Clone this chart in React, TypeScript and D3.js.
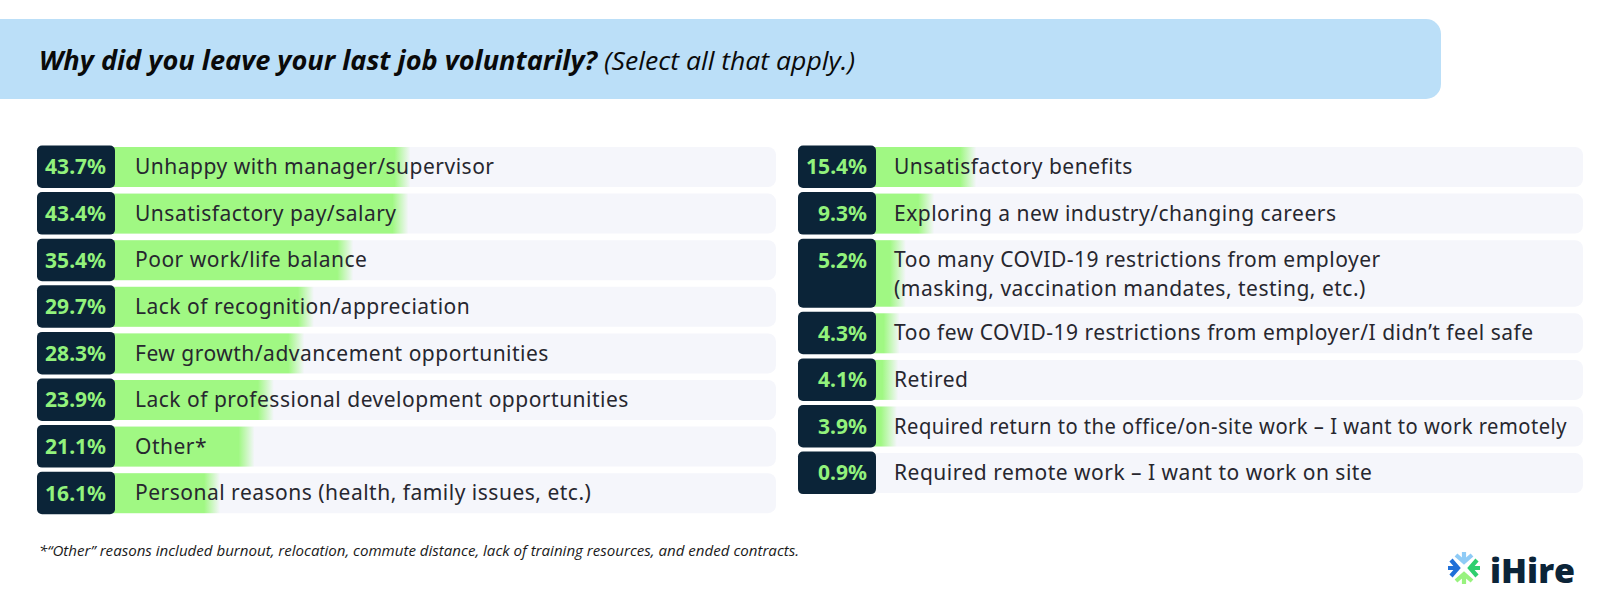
import React, { useLayoutEffect, useRef } from "react";
import * as d3 from "d3";

// ---------- data ----------
const leftLabels = [
  "Unhappy with manager/supervisor",
  "Unsatisfactory pay/salary",
  "Poor work/life balance",
  "Lack of recognition/appreciation",
  "Few growth/advancement opportunities",
  "Lack of professional development opportunities",
  "Other*",
  "Personal reasons (health, family issues, etc.)",
];
const leftValues = [43.7, 43.4, 35.4, 29.7, 28.3, 23.9, 21.1, 16.1];

const rightLabels = [
  "Unsatisfactory benefits",
  "Exploring a new industry/changing careers",
  "Too many COVID-19 restrictions from employer\n(masking, vaccination mandates, testing, etc.)",
  "Too few COVID-19 restrictions from employer/I didn’t feel safe",
  "Retired",
  "Required return to the office/on-site work – I want to work remotely",
  "Required remote work – I want to work on site",
];
const rightValues = [15.4, 9.3, 5.2, 4.3, 4.1, 3.9, 0.9];

const titleBold = "Why did you leave your last job voluntarily?";
const titleNote = "(Select all that apply.)";
const footnote =
  "*“Other” reasons included burnout, relocation, commute distance, lack of training resources, and ended contracts.";
const brand = "iHire";

// ---------- style ----------
const W = 1600;
const H = 613;
const C = {
  banner: "#bbdff8",
  rowBg: "#f5f6fb",
  box: "#0b2438",
  pct: "#92f27c",
  bar: "#a0f883",
  label: "#27272f",
  title: "#0a0a0a",
};
const FONT = "'Noto Sans', 'Open Sans', sans-serif";

const TOP = 145.5;
const BOX_H = 42.5;
const EXTRA_LINE = 26.5;
const GAP = 4.1;
const LINE_STEP = 28.8;

const columns = [
  { labels: leftLabels, values: leftValues, x0: 37, x1: 776, labelDx: 98, key: "L" },
  { labels: rightLabels, values: rightValues, x0: 798, x1: 1583, labelDx: 96, key: "R" },
];

// bar end offset measured from the left edge of the dark box
const barScale = d3.scaleLinear().domain([0, 45]).range([72, 72 + 6.9 * 45]);

function Column({ col }: { col: (typeof columns)[number] }) {
  let y = TOP;
  const rows = col.labels.map((lab, i) => {
    const lines = lab.split("\n");
    const h = BOX_H + (lines.length - 1) * EXTRA_LINE;
    const r = { lines, value: col.values[i], y, h, i };
    y += h + GAP;
    return r;
  });
  const avail = col.x1 - (col.x0 + col.labelDx) - 16;
  return (
    <g>
      {rows.map((r) => {
        const end = col.x0 + barScale(r.value);
        const gid = `g-${col.key}-${r.i}`;
        return (
          <g key={r.i}>
            <defs>
              <linearGradient id={gid} gradientUnits="userSpaceOnUse" x1={end - 16} x2={end} y1={0} y2={0}>
                <stop offset="0" stopColor={C.bar} stopOpacity={1} />
                <stop offset="1" stopColor={C.bar} stopOpacity={0} />
              </linearGradient>
            </defs>
            <rect x={col.x0} y={r.y + 1.5} width={col.x1 - col.x0} height={r.h - 2.5} rx={8} fill={C.rowBg} />
            <rect x={col.x0 + 10} y={r.y + 1.5} width={end - col.x0 - 10} height={r.h - 2.5} fill={`url(#${gid})`} />
            <rect x={col.x0} y={r.y} width={78} height={r.h} rx={5} fill={C.box} />
            <text
              x={col.x0 + 69}
              y={r.y + 28.8}
              textAnchor="end"
              fontFamily={FONT}
              fontWeight={700}
              fontSize={21}
              fill={C.pct}
            >
              {d3.format(".1f")(r.value)}%
            </text>
            {r.lines.map((ln, k) => (
              <text
                key={k}
                className="row-label"
                data-avail={avail}
                x={col.x0 + col.labelDx}
                y={r.y + 28.6 + k * LINE_STEP}
                fontFamily={FONT}
                fontSize={21}
                letterSpacing={0.5}
                fill={C.label}
              >
                {ln}
              </text>
            ))}
          </g>
        );
      })}
    </g>
  );
}

function Logo({ cx, cy }: { cx: number; cy: number }) {
  const arms = [
    { a: -90, c: "#8fcbf6" },
    { a: 180, c: "#1f6fd8" },
    { a: 0, c: "#2ecf6e" },
    { a: 90, c: "#98f27e" },
  ];
  return (
    <g>
      {arms.map((m, i) => (
        <g key={i} transform={`translate(${cx},${cy}) rotate(${m.a})`}>
          <path
            d="M16,0 L6,0 M13,-8 L6,0 L13,8"
            fill="none"
            stroke={m.c}
            strokeWidth={4.2}
            strokeLinecap="butt"
            strokeLinejoin="miter"
          />
        </g>
      ))}
    </g>
  );
}

export default function App() {
  const svgRef = useRef<SVGSVGElement | null>(null);
  useLayoutEffect(() => {
    if (!svgRef.current) return;
    d3.select(svgRef.current)
      .selectAll<SVGTextElement, unknown>("text.row-label")
      .each(function () {
        const avail = +(this.getAttribute("data-avail") || "0");
        const len = this.getComputedTextLength();
        if (len > avail) {
          this.setAttribute("textLength", String(avail));
          this.setAttribute("lengthAdjust", "spacingAndGlyphs");
        }
      });
  }, []);

  return (
    <svg
      ref={svgRef}
      width={W}
      height={H}
      viewBox={`0 0 ${W} ${H}`}
      style={{ position: "absolute", left: 0, top: 0, background: "#fff" }}
    >
      <rect x={-30} y={19} width={1441 + 30} height={80} rx={15} fill={C.banner} />
      <text
        x={39}
        y={70}
        fontFamily="'Open Sans', sans-serif"
        fontSize={26.5}
        fontWeight={700}
        fontStyle="italic"
        fill={C.title}
        textLength={558}
        lengthAdjust="spacingAndGlyphs"
      >
        {titleBold}
      </text>
      <text
        x={604}
        y={70}
        fontFamily="'Open Sans', sans-serif"
        fontSize={25}
        fontStyle="italic"
        fill={C.title}
        textLength={251}
        lengthAdjust="spacingAndGlyphs"
      >
        {titleNote}
      </text>

      {columns.map((col) => (
        <Column key={col.key} col={col} />
      ))}

      <text
        x={39}
        y={556}
        fontFamily="'Open Sans', sans-serif"
        fontSize={14.5}
        fontStyle="italic"
        fill="#1a1a1a"
        textLength={760}
        lengthAdjust="spacingAndGlyphs"
      >
        {footnote}
      </text>

      <Logo cx={1464} cy={568} />
      <text x={1490} y={583} fontFamily="'Open Sans', sans-serif" fontWeight={800} fontSize={34} fill={C.box}>
        {brand}
      </text>
    </svg>
  );
}
